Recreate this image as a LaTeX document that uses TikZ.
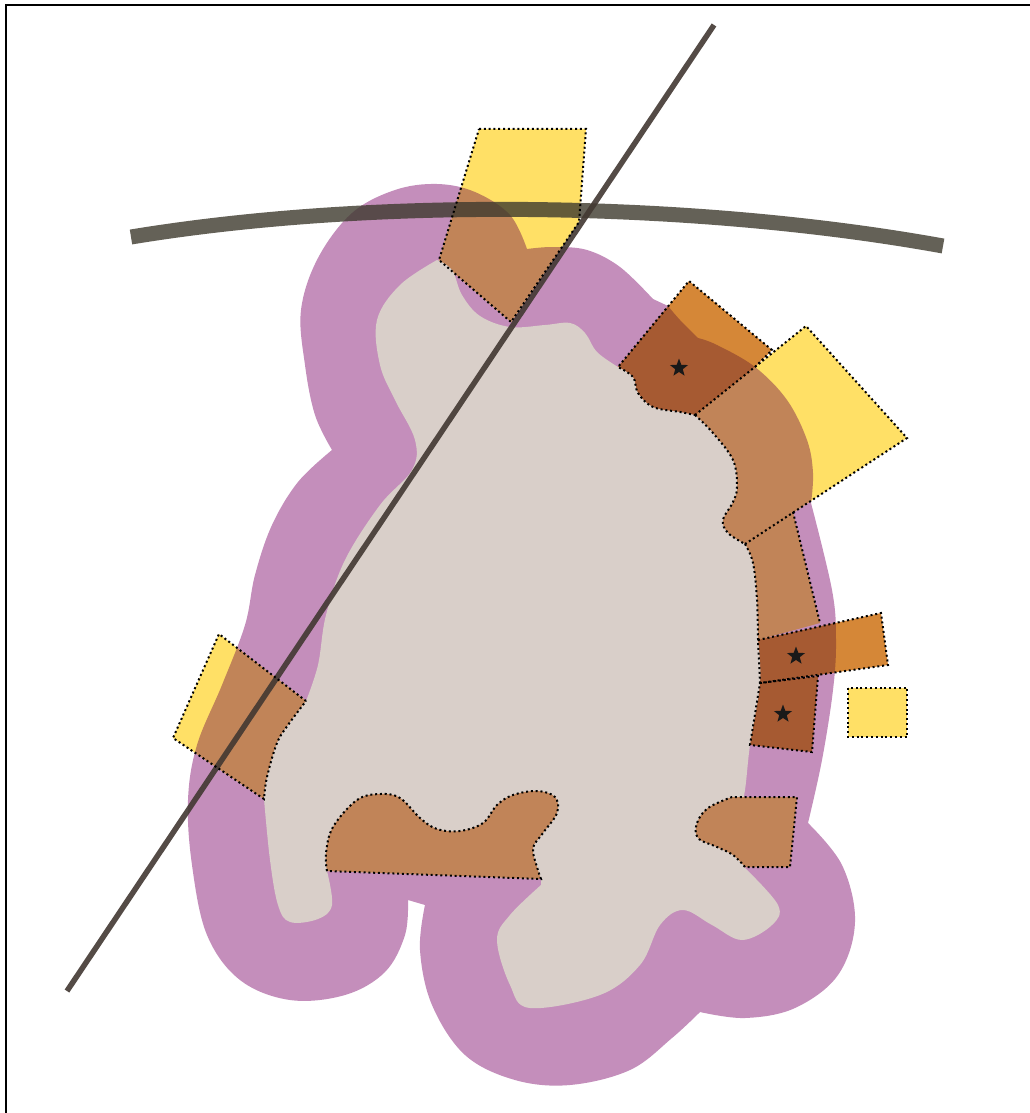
\documentclass[tikz,border=0pt]{standalone}
\usepackage{xcolor}
\usetikzlibrary{shapes.geometric}
\definecolor{blobpurple}{RGB}{196,142,187}
\definecolor{coregray}{RGB}{217,207,201}
\definecolor{zoneyellow}{RGB}{255,224,102}
\definecolor{zonebrown}{RGB}{193,132,88}
\definecolor{zoneorange}{RGB}{213,135,55}
\definecolor{zonedark}{RGB}{166,90,50}
\definecolor{linegray}{RGB}{62,58,46}
\definecolor{linedark}{RGB}{66,56,50}
\tikzset{
  outline/.style={draw=black, line width=2pt, line cap=butt, dash pattern=on 2pt off 2.8pt},
  core/.style={fill=coregray},
  axis/.style={line cap=butt},
  curve/.style={smooth, tension=0.6},
  starmark/.style={star, star points=5, star point ratio=2.4, fill=black!90, inner sep=0pt, minimum size=19pt}
}
% --- Outer blob ---
\def\blobpath{plot[curve] coordinates {(653,299) (620,267) (587,250) (553,247) (527,249)}
  -- plot[curve] coordinates {(527,249) (510,215) (475,192) (437,184) (395,190) (352,213) (318,258) (301,310) (305,365) (315,415) (332,450)}
  -- plot[curve] coordinates {(332,450) (298,482) (272,525) (255,575) (245,625) (222,685) (197,745) (188,800) (192,865) (207,935) (240,980) (290,1000) (345,995) (385,972) (405,935) (408,900)}
  -- (425,905)
  -- plot[curve] coordinates {(425,905) (420,950) (432,1005) (465,1055) (515,1080) (570,1085) (630,1070) (672,1038) (700,1012)}
  -- plot[curve] coordinates {(700,1012) (745,1018) (795,1008) (838,975) (855,922) (842,865) (808,823)}
  -- plot[curve] coordinates {(808,823) (822,760) (833,690) (836,640) (832,590) (811,503)}
  -- plot[curve] coordinates {(811,503) (813,473) (807,440) (787,400) (755,367) (717,345) (698,338)}
  -- plot[curve] coordinates {(698,338) (680,320) (668,306)} -- cycle}
% --- Core edges, shared with the dotted outlines ---
\def\edgecrown{-- plot[curve] coordinates {(618,367) (633,377) (638,393) (653,407) (680,412) (695,415)}}
\def\edgebig{-- plot[curve] coordinates {(695,415) (713,433) (733,460) (737,487) (733,502) (723,520) (728,533) (745,544)}}
\def\edgecolumn{-- plot[curve] coordinates {(745,544) (753,563) (757,600) (758,640)}}
\def\edgeleft{-- plot[curve] coordinates {(264,799) (267,777) (277,743) (288,725) (306,701)}}
\def\corepath{(618,367) \edgecrown \edgebig \edgecolumn -- plot[curve] coordinates {(758,640) (760,683) (750,745) (745,790) (738,830) (745,868)}
  -- plot[curve] coordinates {(745,868) (778,905) (772,925) (742,940) (712,925) (683,910) (660,925) (640,965) (600,995) (530,1008) (510,985) (497,940) (510,915) (541,885)}
  -- (541,879) -- (327,871)
  -- plot[curve] coordinates {(327,871) (332,905) (318,919) (290,922) (278,905) (270,860) (264,799)}
  \edgeleft
  -- plot[curve] coordinates {(306,701) (318,665) (326,615) (345,560) (380,505) (412,470) (415,440) (395,400) (380,365) (377,320) (400,285) (437,260)}
  -- plot[curve] coordinates {(437,260) (452,270) (462,295) (480,316) (510,327) (545,325) (570,323) (585,333) (597,352) (618,367)} -- cycle}
% --- Zones, run in under the core ---
\def\zonetop{(479,129) -- (586,129) -- (579,222) -- (511,322) -- (439,260) -- cycle}
\def\zoneleft{(219,634) -- (306,701) -- (320,740) -- (300,800) -- (264,799) -- (173,738) -- cycle}
\def\zonebig{(755,367) -- (806,326) -- (907,438) -- (745,544) -- (745,560) -- (700,540) -- (680,430) -- (695,415) -- cycle}
\def\zonecolumn{(793,512) -- (820,623) -- (758,640) -- (740,640) -- (730,540) -- (745,544) -- cycle}
\def\zonecrown{(689,281) -- (772,350) -- (755,367) -- (695,415) -- (680,430) -- (630,420) -- (618,367) -- cycle}
\def\zonestripe{(758,640) -- (881,613) -- (888,665) -- (760,683) -- (740,683) -- (740,640) -- cycle}
\def\zonelower{(760,683) -- (818,676) -- (812,752) -- (750,745) -- (735,745) -- (740,683) -- cycle}
% --- Zones inside the core ---
\def\zonewave{plot[curve] coordinates {(327,871) (326,853) (333,827) (357,800) (380,794) (400,798) (420,818) (437,829) (460,831) (483,823) (497,805) (513,795) (537,791) (555,797) (557,813) (543,833) (533,848) (537,867) (541,879)} -- cycle}
\def\zonehook{plot[curve] coordinates {(745,867) (733,855) (717,847) (698,838) (697,823) (708,808) (732,797)} -- (797,797) -- (790,867) -- cycle}
\begin{document}
\begin{tikzpicture}[x=1pt, y=-1pt]

\useasboundingbox (0,0) rectangle (1030,1113);
\fill[white] (0,0) rectangle (1030,1113);
\draw[line width=2.5pt] (1030,5) -- (6,5) -- (6,1113);

% --- Blob ---
\fill[blobpurple] \blobpath;

% --- Yellow zones ---
\fill[zoneyellow] \zonetop;
\fill[zoneyellow] \zoneleft;
\fill[zoneyellow] \zonebig;
\fill[zoneyellow] (848,688) rectangle (907,737);
\begin{scope}
  \clip \zonetop;
  \fill[zonebrown] \blobpath;
\end{scope}
\begin{scope}
  \clip \zoneleft;
  \fill[zonebrown] \blobpath;
\end{scope}
\begin{scope}
  \clip \zonebig;
  \fill[zonebrown] \blobpath;
\end{scope}
\fill[zonebrown] \zonecolumn;

% --- Orange zones ---
\fill[zoneorange] \zonecrown;
\fill[zoneorange] \zonestripe;
\fill[zonedark] \zonelower;
\begin{scope}
  \clip \zonecrown;
  \fill[zonedark] \blobpath;
\end{scope}
\begin{scope}
  \clip \zonestripe;
  \fill[zonedark] \blobpath;
\end{scope}

% --- Core ---
\fill[core] \corepath;
\fill[zonebrown] \zonewave;
\fill[zonebrown] \zonehook;

% --- Crossing lines ---
\draw[axis, draw=linegray, opacity=0.8, line width=15pt] (131,237) .. controls (380,196) and (700,202) .. (943,246);
\draw[axis, draw=linedark, opacity=0.9, line width=5.5pt] (714,25) -- (67,991);

% --- Dotted outlines ---
\draw[outline] \zonetop;
\draw[outline] (306,701) -- (219,634) -- (173,738) -- (264,799) \edgeleft;
\draw[outline] (695,415) -- (806,326) -- (907,438) -- (745,544);
\draw[outline] (695,415) \edgebig;
\draw[outline] (793,512) -- (820,623);
\draw[outline] (745,544) \edgecolumn;
\draw[outline] (755,367) -- (772,350) -- (689,281) -- (618,367) \edgecrown;
\draw[outline] (758,640) -- (881,613) -- (888,665) -- (760,683) -- cycle;
\draw[outline] (760,683) -- (818,676) -- (812,752) -- (750,745) -- cycle;
\draw[outline] (848,688) rectangle (907,737);
\draw[outline] \zonewave;
\draw[outline] \zonehook;

% --- Stars ---
\node[starmark] (starcrown) at (679,368) {};
\node[starmark] (starstripe) at (796,656) {};
\node[starmark] (starlower) at (783,714) {};

\end{tikzpicture}
\end{document}
